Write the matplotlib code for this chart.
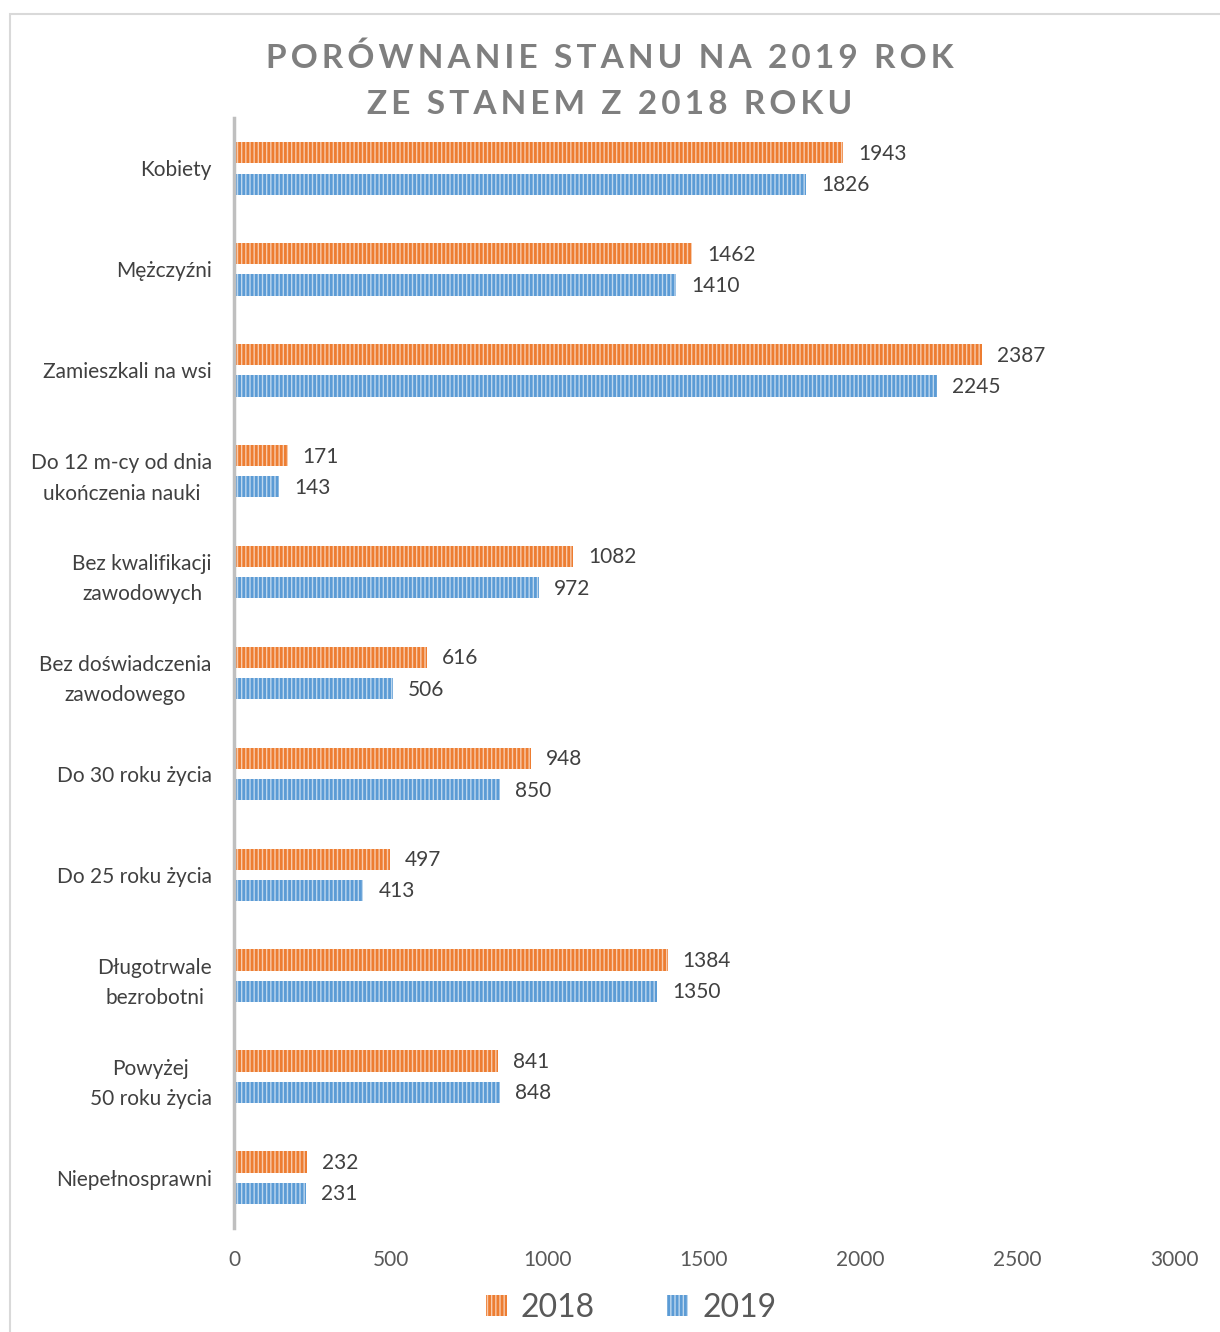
import matplotlib.pyplot as plt
import numpy as np
from matplotlib.patches import Rectangle

# ===== DATA =====
categories = [
    "Kobiety",
    "Mężczyźni",
    "Zamieszkali na wsi",
    "Do 12 m-cy od dnia\nukończenia nauki",
    "Bez kwalifikacji\nzawodowych",
    "Bez doświadczenia\nzawodowego",
    "Do 30 roku życia",
    "Do 25 roku życia",
    "Długotrwale\nbezrobotni",
    "Powyżej\n50 roku życia",
    "Niepełnosprawni",
]
values_2018 = [1943, 1462, 2387, 171, 1082, 616, 948, 497, 1384, 841, 232]
values_2019 = [1826, 1410, 2245, 143, 972, 506, 850, 413, 1350, 848, 231]
series_labels = ["2018", "2019"]
title_lines = ["PORÓWNANIE STANU NA 2019 ROK", "ZE STANEM Z 2018 ROKU"]

plt.rcParams["font.family"] = ["Lato", "DejaVu Sans"]
plt.rcParams["hatch.linewidth"] = 2.0

fig = plt.figure(figsize=(12.2, 13.32), dpi=100)
ax = fig.add_axes([234 / 1220, 1 - 1228 / 1332, 940 / 1220, 1110 / 1332])

# outer frame
fig.patches.append(Rectangle((10 / 1220, -0.01), 1.0, 1 - 14 / 1332 + 0.01,
                             transform=fig.transFigure, fill=False,
                             edgecolor="#D9D9D9", linewidth=1.5))

y = np.arange(len(categories))
h = 0.21
off = 0.155

b1 = ax.barh(y - off, values_2018, height=h, color="#F8CBAD", edgecolor="#ED7D31",
             hatch="||||", linewidth=0, label=series_labels[0])
b2 = ax.barh(y + off, values_2019, height=h, color="#BDD7EE", edgecolor="#5B9BD5",
             hatch="||||", linewidth=0, label=series_labels[1])

for bars, vals in ((b1, values_2018), (b2, values_2019)):
    for bar, v in zip(bars, vals):
        ax.text(v + 48, bar.get_y() + bar.get_height() / 2 + 0.01, str(v),
                va="center", ha="left", fontsize=15, color="#404040")

ax.set_xlim(0, 3000)
ax.set_ylim(len(categories) - 0.5, -0.5)
ax.set_xticks(range(0, 3001, 500))
ax.set_yticks(y)
ax.set_yticklabels(categories, fontsize=15, color="#404040", linespacing=1.65,
                   multialignment="center")
ax.tick_params(axis="x", length=0, pad=16, labelsize=15, labelcolor="#595959")
ax.tick_params(axis="y", length=0, pad=16)

for s in ["top", "right", "bottom"]:
    ax.spines[s].set_visible(False)
ax.spines["left"].set_color("#BFBFBF")
ax.spines["left"].set_linewidth(2.5)


def spaced(s):
    return "\u2009".join(s)


fig.text(0.5, 1 - 58 / 1332, spaced(title_lines[0]),
         ha="center", va="center", fontsize=24, fontweight="bold", color="#7F7F7F")
fig.text(0.5, 1 - 104 / 1332, spaced(title_lines[1]),
         ha="center", va="center", fontsize=24, fontweight="bold", color="#7F7F7F")

leg = fig.legend(handles=[b1, b2], labels=series_labels, loc="center",
                 bbox_to_anchor=(631 / 1220, 1 - 1308 / 1332), ncol=2, frameon=False,
                 fontsize=23, labelcolor="#595959", handlelength=0.65, handleheight=0.65,
                 columnspacing=2.25, handletextpad=0.45)

plt.savefig("out.png", dpi=100)
